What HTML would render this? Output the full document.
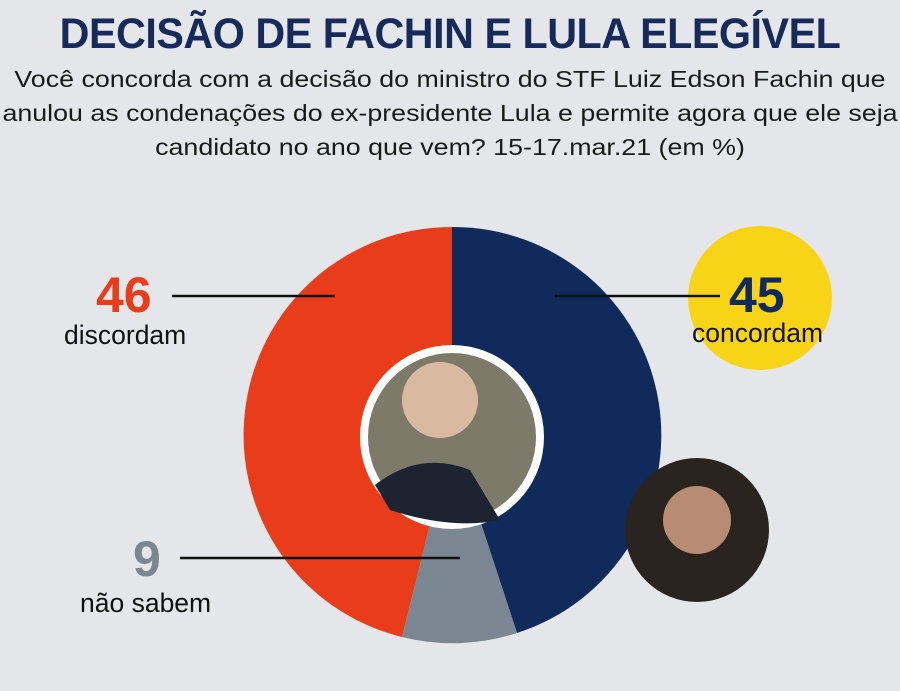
<!DOCTYPE html>
<html><head><meta charset="utf-8"><style>
body{margin:0;width:900px;height:691px;background:#e4e6e9;overflow:hidden;font-family:"Liberation Sans",sans-serif;position:relative}
.t{position:absolute;white-space:nowrap}
</style></head><body>
<div class="t" style="left:0;width:900px;top:10px;text-align:center;font-size:43px;font-weight:bold;color:#172b5a;transform:scaleX(0.96);letter-spacing:-0.5px">DECISÃO DE FACHIN E LULA ELEGÍVEL</div>
<div class="t" style="left:0;width:900px;top:62px;text-align:center;font-size:23.5px;line-height:34px;color:#1a1a1a;transform:scaleX(1.14)">Você concorda com a decisão do ministro do STF Luiz Edson Fachin que<br>anulou as condenações do ex-presidente Lula e permite agora que ele seja<br>candidato no ano que vem? 15-17.mar.21 (em %)</div>
<svg width="900" height="691" style="position:absolute;left:0;top:0">
<circle cx="760" cy="298" r="72" fill="#f8d418"/>
<path d="M452 435 L452 227 A208 208 0 0 1 517 633 Z" fill="#102a5c"/>
<path d="M452 435 L517 633 A208 208 0 0 1 402 637 Z" fill="#7a8691"/>
<path d="M452 435 L402 637 A208 208 0 0 1 452 227 Z" fill="#e93c1a"/>
<circle cx="452" cy="437" r="92" fill="#fff"/>
<circle cx="452" cy="437" r="84" fill="#7d7a6a"/>
<circle cx="440" cy="400" r="38" fill="#d9b9a0"/>
<path d="M375 485 Q420 450 470 470 L500 520 Q452 530 390 510 Z" fill="#1d2330"/>
<circle cx="697" cy="530" r="72" fill="#2a2420"/>
<circle cx="697" cy="520" r="34" fill="#b88c72"/>
<line x1="172" y1="296" x2="335" y2="296" stroke="#111" stroke-width="2.5"/>
<line x1="555" y1="296" x2="720" y2="296" stroke="#111" stroke-width="2.5"/>
<line x1="180" y1="558" x2="460" y2="558" stroke="#111" stroke-width="2.5"/>
</svg>
<div class="t" style="left:96px;top:266px;font-size:50px;font-weight:bold;color:#e93c1a">46</div>
<div class="t" style="left:64px;top:320px;font-size:26.5px;color:#111">discordam</div>
<div class="t" style="left:729px;top:266px;font-size:50px;font-weight:bold;color:#102a5c">45</div>
<div class="t" style="left:692px;top:318px;font-size:26.5px;color:#111">concordam</div>
<div class="t" style="left:133px;top:530px;font-size:50px;font-weight:bold;color:#7a8691">9</div>
<div class="t" style="left:80px;top:588px;font-size:26.5px;color:#111">não sabem</div>
</body></html>
